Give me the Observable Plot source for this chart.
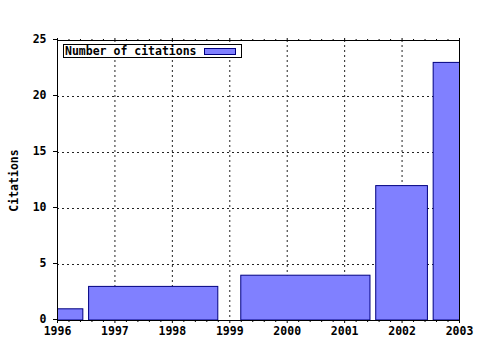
<!DOCTYPE html>
<html>
<head>
<meta charset="utf-8">
<script src="https://cdn.jsdelivr.net/npm/d3@7"></script>
<script src="https://cdn.jsdelivr.net/npm/@observablehq/plot@0.6"></script>
<style>
  html, body { margin: 0; padding: 0; background: white; }
  #wrap { position: relative; width: 480px; height: 350px; }
  #legend {
    position: absolute; left: 63px; top: 44px; width: 177px; height: 12px;
    border: 1px solid black; background: white;
    font-family: "DejaVu Sans Mono", monospace; font-weight: bold; font-size: 11.5px;
    line-height: 12px; color: black;
  }
  #legend span.t { position: absolute; left: 1px; top: 0px; }
  #legend span.sw { position: absolute; left: 140px; top: 3px; width: 30px; height: 5px;
    background: #8080ff; border: 1px solid #000080; }
</style>
</head>
<body>
<div id="wrap">
  <div id="chart"></div>
  <div id="legend"><span class="t">Number of citations</span><span class="sw"></span></div>
</div>
<script>
const seriesName = "Number of citations";
const counts = [1, 3, 4, 12, 23];
const barStart = [1995.9, 1996.55, 1999.2, 2001.55, 2002.55];
const barEnd = [1996.45, 1998.8, 2001.45, 2002.45, 2003.1];
const yearTicks = [1996, 1997, 1998, 1999, 2000, 2001, 2002, 2003];
const yTicks = [0, 5, 10, 15, 20, 25];
const yLabel = "Citations";

const data = counts.map((c, i) => ({count: c, x1: barStart[i], x2: barEnd[i]}));
const minor = d3.range(1996, 2003.0001, 0.2).filter(d => Math.abs(d - Math.round(d)) > 1e-6);

const chart = Plot.plot({
  width: 480,
  height: 350,
  marginLeft: 57,
  marginRight: 21,
  marginTop: 40,
  marginBottom: 30,
  style: {fontFamily: "DejaVu Sans Mono, monospace", fontSize: "11.5px", fontWeight: "bold", background: "white", color: "black"},
  x: {domain: [1996, 2003]},
  y: {domain: [0, 25]},
  marks: [
    Plot.gridX(yearTicks.slice(1, -1), {stroke: "#222", strokeOpacity: 1, strokeDasharray: "2,3"}),
    Plot.gridY(yTicks.slice(1, -1), {stroke: "#222", strokeOpacity: 1, strokeDasharray: "2,3"}),
    Plot.rect(data, {x1: "x1", x2: "x2", y1: 0, y2: "count", fill: "#8080ff", stroke: "#000080", strokeWidth: 1, clip: true}),
    Plot.frame({stroke: "black"}),
    Plot.axisX(yearTicks, {anchor: "bottom", tickSize: 3, tickPadding: 3, tickFormat: d => String(d), label: null}),
    Plot.axisX(minor, {anchor: "bottom", tickSize: 2, text: null, label: null}),
    Plot.axisX(yearTicks, {anchor: "top", tickSize: 3, text: null, label: null}),
    Plot.axisX(minor, {anchor: "top", tickSize: 2, text: null, label: null}),
    Plot.axisY(yTicks, {anchor: "left", tickSize: 4, tickPadding: 7, dy: -1, label: yLabel, labelAnchor: "center", labelArrow: "none", labelOffset: 48})
  ]
});
document.getElementById("chart").appendChild(chart);
</script>
</body>
</html>
